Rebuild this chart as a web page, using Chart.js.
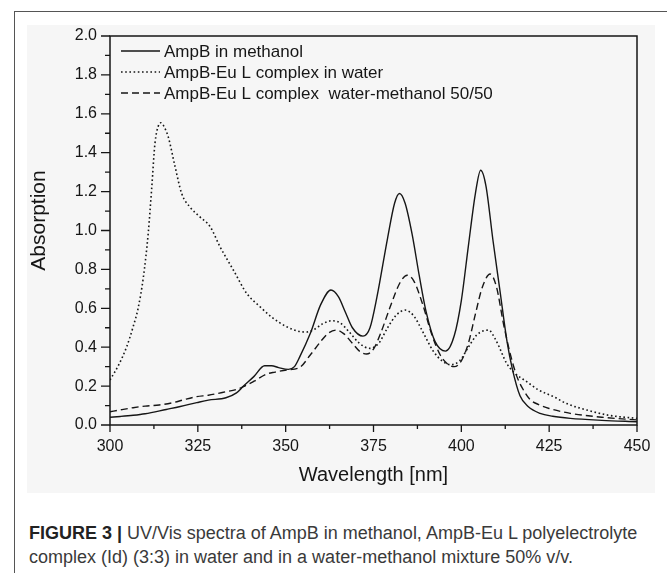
<!DOCTYPE html>
<html>
<head>
<meta charset="utf-8">
<script src="https://cdn.jsdelivr.net/npm/chart.js@4"></script>
<style>
  body { margin: 0; width: 667px; height: 573px; background: #fff; position: relative; overflow: hidden; font-family: "Liberation Sans", Arial, sans-serif; }
  #frame { position: absolute; left: 14px; top: 11px; width: 700px; height: 600px; border-left: 1px solid #555; border-top: 1px solid #555; }
  #wrap { position: absolute; left: 27px; top: 25px; width: 628px; height: 468px; background: #f6f6f6; }
  #caption { position: absolute; left: 29px; top: 521px; font-size: 18px; line-height: 24px; color: #3a3a3a; white-space: nowrap; }
  #caption b { color: #222; }
</style>
</head>
<body>
<div id="frame"></div>
<div id="wrap"><canvas id="chart" width="628" height="468"></canvas></div>
<div id="caption"><b>FIGURE 3 |</b> UV/Vis spectra of AmpB in methanol, AmpB-Eu L polyelectrolyte<br>complex (Id) (3:3) in water and in a water-methanol mixture 50% v/v.</div>
<script>
// values (wavelength in nm, absorption)
const seriesNames = ["AmpB in methanol", "AmpB-Eu L complex in water", "AmpB-Eu L complex  water-methanol 50/50"];

const methanolX = [300, 303, 306.6, 310, 316, 320, 324.7, 328, 333, 336, 338, 341, 344, 346, 348, 350.8, 352.5, 354, 357, 360, 362.9, 365, 367, 369, 372, 374, 376, 379, 381, 382.4, 384, 386, 388, 390, 392.5, 395.5, 398, 400, 402, 404, 405.5, 407, 409, 411, 413, 414.5, 416.7, 419, 422.4, 426, 431, 440, 450];
const methanolY = [0.040, 0.044, 0.050, 0.058, 0.080, 0.095, 0.115, 0.128, 0.140, 0.165, 0.20, 0.25, 0.305, 0.305, 0.295, 0.286, 0.30, 0.35, 0.47, 0.62, 0.694, 0.66, 0.58, 0.50, 0.457, 0.50, 0.66, 0.96, 1.14, 1.19, 1.14, 0.98, 0.77, 0.58, 0.43, 0.38, 0.46, 0.64, 0.92, 1.19, 1.31, 1.23, 0.95, 0.69, 0.43, 0.29, 0.15, 0.095, 0.06, 0.045, 0.034, 0.024, 0.017];

const waterX = [300, 302.5, 304.7, 306.5, 308, 309.5, 310.9, 311.9, 312.8, 313.8, 314.5, 315.5, 316.6, 318.5, 320.4, 322.8, 325.6, 328.5, 331.3, 335.1, 338.9, 342.7, 346, 350.3, 354.1, 356, 358, 360.5, 363.1, 365.5, 368, 371, 374, 376.5, 379, 381.5, 384, 386.5, 389, 392, 394.5, 397, 399.5, 402, 404.5, 407.7, 410, 412.9, 415, 418.6, 422, 426.2, 430, 435.7, 442, 450];
const waterY = [0.231, 0.31, 0.40, 0.50, 0.60, 0.76, 0.99, 1.225, 1.448, 1.54, 1.554, 1.53, 1.48, 1.33, 1.19, 1.12, 1.07, 1.02, 0.917, 0.797, 0.677, 0.608, 0.555, 0.505, 0.48, 0.478, 0.49, 0.52, 0.536, 0.525, 0.48, 0.42, 0.394, 0.42, 0.50, 0.565, 0.591, 0.56, 0.48, 0.38, 0.33, 0.31, 0.33, 0.40, 0.465, 0.488, 0.43, 0.317, 0.27, 0.223, 0.18, 0.146, 0.11, 0.077, 0.05, 0.034];

const mixX = [300, 303, 306.6, 310, 314, 318, 321, 324.7, 328, 333, 336, 338, 341, 344.6, 347, 350.3, 354, 357, 360, 362, 364.5, 366.5, 369, 371, 373, 375, 377, 380, 382.5, 384.6, 386.5, 389, 391.5, 394, 396, 398, 400, 402, 404, 406, 408.2, 410, 412, 414, 415.8, 418, 419.6, 422, 425, 431, 440, 450];
const mixY = [0.068, 0.078, 0.089, 0.097, 0.103, 0.115, 0.130, 0.146, 0.153, 0.171, 0.183, 0.197, 0.225, 0.262, 0.272, 0.283, 0.296, 0.36, 0.43, 0.47, 0.488, 0.47, 0.42, 0.38, 0.365, 0.39, 0.47, 0.62, 0.73, 0.77, 0.74, 0.62, 0.47, 0.36, 0.315, 0.30, 0.33, 0.42, 0.57, 0.71, 0.776, 0.71, 0.52, 0.36, 0.25, 0.17, 0.13, 0.105, 0.085, 0.06, 0.04, 0.026];

const xTicks = [300, 325, 350, 375, 400, 425, 450];
const yTicks = [0, 0.2, 0.4, 0.6, 0.8, 1.0, 1.2, 1.4, 1.6, 1.8, 2.0];

const ink = "#161616";
const font = "'Liberation Sans', Arial, sans-serif";
const pts = (xs, ys) => xs.map((x, i) => ({ x, y: ys[i] }));

const decor = {
  id: "decor",
  afterDraw(chart) {
    const { ctx, chartArea: a, scales: { x, y } } = chart;
    ctx.save();
    ctx.strokeStyle = ink;
    ctx.lineWidth = 1.5;
    ctx.strokeRect(a.left, a.top, a.right - a.left, a.bottom - a.top);

    // major + minor ticks, pointing outward
    ctx.lineWidth = 1.3;
    ctx.beginPath();
    for (let i = 0; i < xTicks.length * 2 - 1; i++) {
      const px = x.getPixelForValue(xTicks[0] + i * 12.5);
      ctx.moveTo(px, a.bottom);
      ctx.lineTo(px, a.bottom + (i % 2 ? 4 : 7));
    }
    for (let i = 0; i < yTicks.length * 2 - 1; i++) {
      const py = y.getPixelForValue(i / 10);
      ctx.moveTo(a.left, py);
      ctx.lineTo(a.left - (i % 2 ? 5 : 9), py);
    }
    ctx.stroke();

    // y axis title
    ctx.fillStyle = ink;
    ctx.font = "21px " + font;
    ctx.textAlign = "center";
    ctx.textBaseline = "middle";
    ctx.translate(12.5, (a.top + a.bottom) / 2 - 10);
    ctx.rotate(-Math.PI / 2);
    ctx.fillText("Absorption", 0, 0);
    ctx.setTransform(1, 0, 0, 1, 0, 0);

    // legend inside the plot, top left
    ctx.font = "17px " + font;
    ctx.textAlign = "left";
    chart.data.datasets.forEach((ds, i) => {
      const ly = a.top + 15 + i * 21;
      ctx.setLineDash(ds.borderDash || []);
      ctx.lineWidth = ds.borderWidth;
      ctx.beginPath();
      ctx.moveTo(a.left + 11, ly);
      ctx.lineTo(a.left + 50, ly);
      ctx.stroke();
      ctx.setLineDash([]);
      ctx.fillText(ds.label, a.left + 54, ly + 1);
    });
    ctx.restore();
  }
};

new Chart(document.getElementById("chart"), {
  type: "line",
  data: {
    datasets: [
      { label: seriesNames[0], data: pts(methanolX, methanolY), borderColor: ink, borderWidth: 1.4 },
      { label: seriesNames[1], data: pts(waterX, waterY), borderColor: ink, borderWidth: 1.6, borderDash: [1.6, 2.6] },
      { label: seriesNames[2], data: pts(mixX, mixY), borderColor: ink, borderWidth: 1.4, borderDash: [7, 4] }
    ]
  },
  options: {
    responsive: false,
    animation: false,
    events: [],
    layout: { padding: { left: 0, right: 18, top: 11, bottom: 0 } },
    elements: { point: { radius: 0 }, line: { cubicInterpolationMode: "monotone", fill: false } },
    plugins: { legend: { display: false }, tooltip: { enabled: false } },
    scales: {
      x: {
        type: "linear", min: 300, max: 450,
        afterBuildTicks: s => { s.ticks = xTicks.map(v => ({ value: v })); },
        afterFit: s => { s.height = 68; },
        grid: { display: false, drawTicks: true, tickLength: 12 },
        border: { display: false },
        ticks: { color: ink, padding: 0, font: { size: 16, family: font } },
        title: { display: true, text: "Wavelength [nm]", color: ink, padding: { top: 0, bottom: 6 }, font: { size: 20, family: font } }
      },
      y: {
        min: 0, max: 2,
        afterBuildTicks: s => { s.ticks = yTicks.map(v => ({ value: v })); },
        afterFit: s => { s.width = 83; },
        grid: { display: false, drawTicks: true, tickLength: 13 },
        border: { display: false },
        ticks: { color: ink, padding: 0, callback: v => v.toFixed(1), font: { size: 16, family: font } }
      }
    }
  },
  plugins: [decor]
});
</script>
</body>
</html>
